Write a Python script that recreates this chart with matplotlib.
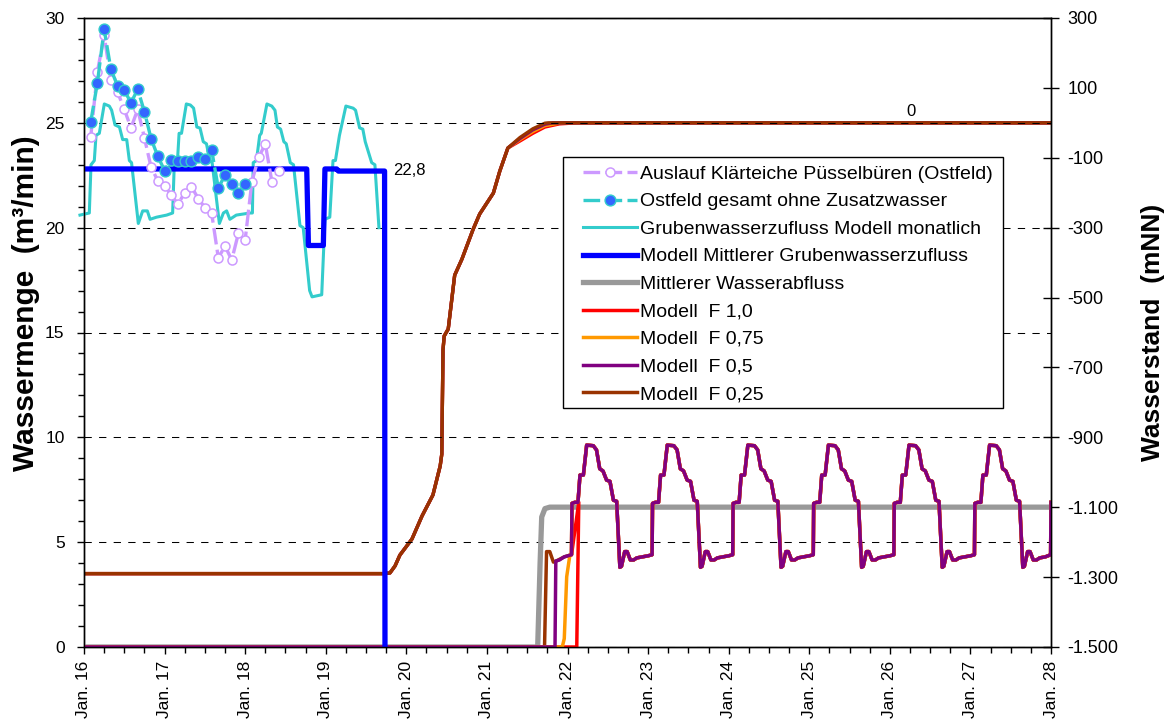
import matplotlib
matplotlib.use("Agg")
import matplotlib.pyplot as plt
from matplotlib.patches import Rectangle
from matplotlib.ticker import MultipleLocator, FixedLocator, FuncFormatter

plt.rcParams['font.family'] = ['Liberation Sans', 'DejaVu Sans']

# measured series, month index counted from Jan 2016 (1 = Feb 2016)
auslauf_m = list(range(1, 30))
auslauf_v = [24.33, 27.44, 29.17, 27.05, 26.47, 25.64, 24.76, 25.64, 24.28, 22.87,
             22.24, 21.99, 21.55, 21.12, 21.67, 21.96, 21.39, 20.96, 20.71, 18.56,
             19.12, 18.46, 19.74, 19.42, 22.20, 23.35, 23.99, 22.16, 22.71]

ostfeld_m = list(range(1, 25))
ostfeld_v = [25.03, 26.92, 29.46, 27.56, 26.76, 26.55, 25.96, 26.60, 25.53, 24.23,
             23.40, 22.72, 23.24, 23.16, 23.16, 23.20, 23.35, 23.29, 23.72, 21.88,
             22.52, 22.08, 21.67, 22.08]

# Grubenwasserzufluss Modell monatlich (decimal years)
gw_t = [2015.95, 2016.066, 2016.087, 2016.128, 2016.149, 2016.19, 2016.252, 2016.314,
        2016.343, 2016.385, 2016.44, 2016.48, 2016.53, 2016.563, 2016.59, 2016.674,
        2016.728, 2016.786, 2016.82, 2016.90, 2017.026, 2017.10,
        2017.12, 2017.16, 2017.18, 2017.21, 2017.27, 2017.32, 2017.36, 2017.40,
        2017.44, 2017.48, 2017.52, 2017.56, 2017.59, 2017.68, 2017.73, 2017.77,
        2017.81, 2017.89, 2018.06, 2018.09,
        2018.10, 2018.14, 2018.18, 2018.20, 2018.27, 2018.33, 2018.37, 2018.40,
        2018.44, 2018.48, 2018.51, 2018.56, 2018.60, 2018.68, 2018.72, 2018.80,
        2018.83, 2018.95, 2018.99, 2019.05,
        2019.09, 2019.12, 2019.17, 2019.25, 2019.34, 2019.37, 2019.42, 2019.46,
        2019.49, 2019.57, 2019.61, 2019.66]
gw_v = [20.6, 20.7, 23.0, 23.2, 24.4, 24.5, 25.9, 25.8,
        25.6, 24.9, 24.8, 24.2, 24.2, 23.2, 23.1, 20.2,
        20.8, 20.8, 20.4, 20.5, 20.6, 20.7,
        23.0, 23.2, 24.5, 24.5, 25.9, 25.85, 25.7, 24.8,
        24.75, 24.1, 24.0, 23.2, 23.1, 20.2, 20.7, 20.8,
        20.4, 20.6, 20.7, 20.7,
        23.1, 23.2, 24.4, 24.5, 25.9, 25.8, 25.6, 24.8,
        24.7, 24.1, 24.0, 23.1, 23.0, 20.1, 20.0, 17.0,
        16.7, 16.8, 20.4, 20.5,
        23.2, 23.2, 24.4, 25.8, 25.7, 25.6, 24.76, 24.7,
        24.1, 23.1, 23.0, 20.0]

# Modell Mittlerer Grubenwasserzufluss
mgw_t = [2016.0, 2018.764, 2018.785, 2018.97, 2018.99, 2019.136, 2019.157, 2019.73, 2019.735]
mgw_v = [22.8, 22.8, 19.15, 19.15, 22.8, 22.8, 22.7, 22.7, 0.0]

# Mittlerer Wasserabfluss
abfl_t = [2016.0, 2021.63, 2021.66, 2021.68, 2021.72, 2021.78, 2028.0]
abfl_v = [0.0, 0.0, 4.0, 6.2, 6.6, 6.67, 6.67]

# water level (mNN), common part for all models
lvl_t = [2016.0, 2019.735, 2019.797, 2019.86, 2019.92, 2020.07, 2020.195, 2020.33,
         2020.42, 2020.44, 2020.455, 2020.47, 2020.52, 2020.60, 2020.69, 2020.75,
         2020.83, 2020.91, 2021.08, 2021.16, 2021.26]
lvl_v = [-1290, -1290, -1288, -1268, -1237, -1191, -1125, -1065,
         -982, -948, -650, -610, -590, -436, -390, -353,
         -304, -261, -201, -138, -72]
# tail of the water level per model
lvl_tail_t = {'1,0': [2021.41, 2021.57, 2021.72, 2021.90, 2022.12, 2028.0],
              '0,75': [2021.41, 2021.57, 2021.72, 2021.90, 2021.98, 2028.0],
              '0,5': [2021.41, 2021.57, 2021.72, 2021.82, 2028.0],
              '0,25': [2021.41, 2021.57, 2021.72, 2021.76, 2028.0]}
lvl_tail_v = {'1,0': [-52, -30, -12, -3, 0, 0],
              '0,75': [-48, -25, -8, -1, 0, 0],
              '0,5': [-45, -20, -4, 0, 0],
              '0,25': [-42, -17, -1, 0, 0]}

# discharge, seasonal part shared by all models (from Feb 2022)
dis_t = [2022.05, 2022.055, 2022.09, 2022.13, 2022.155, 2022.197, 2022.238, 2022.32, 2022.36,
         2022.40, 2022.44, 2022.485, 2022.527, 2022.57, 2022.61, 2022.65, 2022.67, 2022.71,
         2022.74, 2022.78, 2022.82, 2022.86, 2022.93, 2023.0,
         2023.05, 2023.055, 2023.09, 2023.13, 2023.155, 2023.197, 2023.238, 2023.32, 2023.36,
         2023.40, 2023.44, 2023.485, 2023.527, 2023.57, 2023.61, 2023.65, 2023.67, 2023.71,
         2023.74, 2023.78, 2023.82, 2023.86, 2023.93, 2024.0,
         2024.05, 2024.055, 2024.09, 2024.13, 2024.155, 2024.197, 2024.238, 2024.32, 2024.36,
         2024.40, 2024.44, 2024.485, 2024.527, 2024.57, 2024.61, 2024.65, 2024.67, 2024.71,
         2024.74, 2024.78, 2024.82, 2024.86, 2024.93, 2025.0,
         2025.05, 2025.055, 2025.09, 2025.13, 2025.155, 2025.197, 2025.238, 2025.32, 2025.36,
         2025.40, 2025.44, 2025.485, 2025.527, 2025.57, 2025.61, 2025.65, 2025.67, 2025.71,
         2025.74, 2025.78, 2025.82, 2025.86, 2025.93, 2026.0,
         2026.05, 2026.055, 2026.09, 2026.13, 2026.155, 2026.197, 2026.238, 2026.32, 2026.36,
         2026.40, 2026.44, 2026.485, 2026.527, 2026.57, 2026.61, 2026.65, 2026.67, 2026.71,
         2026.74, 2026.78, 2026.82, 2026.86, 2026.93, 2027.0,
         2027.05, 2027.055, 2027.09, 2027.13, 2027.155, 2027.197, 2027.238, 2027.32, 2027.36,
         2027.40, 2027.44, 2027.485, 2027.527, 2027.57, 2027.61, 2027.65, 2027.67, 2027.71,
         2027.74, 2027.78, 2027.82, 2027.86, 2027.93, 2027.995, 2028.0]
dis_v = [4.4, 6.85, 6.9, 6.9, 8.2, 8.2, 9.63, 9.6, 9.4,
         8.5, 8.4, 7.96, 7.9, 7.0, 6.95, 3.8, 3.85, 4.55,
         4.55, 4.15, 4.15, 4.25, 4.3, 4.35,
         4.4, 6.85, 6.9, 6.9, 8.2, 8.2, 9.63, 9.6, 9.4,
         8.5, 8.4, 7.96, 7.9, 7.0, 6.95, 3.8, 3.85, 4.55,
         4.55, 4.15, 4.15, 4.25, 4.3, 4.35,
         4.4, 6.85, 6.9, 6.9, 8.2, 8.2, 9.63, 9.6, 9.4,
         8.5, 8.4, 7.96, 7.9, 7.0, 6.95, 3.8, 3.85, 4.55,
         4.55, 4.15, 4.15, 4.25, 4.3, 4.35,
         4.4, 6.85, 6.9, 6.9, 8.2, 8.2, 9.63, 9.6, 9.4,
         8.5, 8.4, 7.96, 7.9, 7.0, 6.95, 3.8, 3.85, 4.55,
         4.55, 4.15, 4.15, 4.25, 4.3, 4.35,
         4.4, 6.85, 6.9, 6.9, 8.2, 8.2, 9.63, 9.6, 9.4,
         8.5, 8.4, 7.96, 7.9, 7.0, 6.95, 3.8, 3.85, 4.55,
         4.55, 4.15, 4.15, 4.25, 4.3, 4.35,
         4.4, 6.85, 6.9, 6.9, 8.2, 8.2, 9.63, 9.6, 9.4,
         8.5, 8.4, 7.96, 7.9, 7.0, 6.95, 3.8, 3.85, 4.55,
         4.55, 4.15, 4.15, 4.25, 4.3, 4.4, 6.9]
# start of discharge per model (before the shared part)
dis_head_t = {'1,0': [2016.0, 2022.115, 2022.14],
              '0,75': [2016.0, 2021.935, 2021.96, 2021.99, 2022.03],
              '0,5': [2016.0, 2021.845, 2021.855, 2021.90, 2021.96, 2022.03],
              '0,25': [2016.0, 2021.715, 2021.74, 2021.78, 2021.825, 2021.86, 2021.96, 2022.03]}
dis_head_v = {'1,0': [0.0, 0.0, 6.9],
              '0,75': [0.0, 0.0, 0.4, 3.35, 4.4],
              '0,5': [0.0, 0.0, 4.1, 4.15, 4.3, 4.38],
              '0,25': [0.0, 0.0, 4.55, 4.55, 4.05, 4.1, 4.3, 4.38]}

model_keys = ['1,0', '0,75', '0,5', '0,25']
model_colors = {'1,0': '#FF0000', '0,75': '#FF9900', '0,5': '#800080', '0,25': '#993300'}

year_ticks = list(range(2016, 2029))
year_labels = ['Jan. %02d' % (y % 100) for y in year_ticks]


def month_to_year(months):
    return [2016 + m / 12.0 for m in months]


def de_thousands(v, pos):
    s = '{:,.0f}'.format(v).replace(',', '.')
    return s


fig = plt.figure(figsize=(11.71, 7.19), dpi=100)
ax = fig.add_axes([84 / 1171, 72 / 719, 967 / 1171, 629 / 719])
ax2 = ax.twinx()
ax.set_zorder(ax2.get_zorder() + 1)
ax.patch.set_visible(False)

ax.set_xlim(2016, 2028)
ax.set_ylim(0, 30)
ax2.set_ylim(-1500, 300)

ax.grid(axis='y', which='major', color='black', linestyle=(0, (7, 7)), linewidth=0.75)
ax.set_axisbelow(True)

# water level on right axis, brown on top
for k in model_keys:
    ax2.plot(lvl_t + lvl_tail_t[k], lvl_v + lvl_tail_v[k], color=model_colors[k], lw=2.4,
             solid_joinstyle='round')

# left axis series
h_gw, = ax.plot(gw_t, gw_v, color='#33CCCC', lw=2.2, clip_on=False,
                label='Grubenwasserzufluss Modell monatlich')
h_abfl, = ax.plot(abfl_t, abfl_v, color='#999999', lw=3.8, solid_joinstyle='round',
                  label='Mittlerer Wasserabfluss')
dis_handles = {}
for k in ['0,25', '1,0', '0,75', '0,5']:
    h, = ax.plot(dis_head_t[k] + dis_t, dis_head_v[k] + dis_v, color=model_colors[k], lw=2.5,
                 label='Modell  F ' + k)
    dis_handles[k] = h
h_mgw, = ax.plot(mgw_t, mgw_v, color='#0000FF', lw=3.8,
                 label='Modell Mittlerer Grubenwasserzufluss')
h_aus, = ax.plot(month_to_year(auslauf_m), auslauf_v, color='#CC99FF', lw=2.4,
                 linestyle=(0, (5, 1.6)), marker='o', ms=6.5, mfc='white', mec='#CC99FF',
                 mew=1.1, label='Auslauf Klärteiche Püsselbüren (Ostfeld)')
h_ost, = ax.plot(month_to_year(ostfeld_m), ostfeld_v, color='#33CCCC', lw=2.4,
                 linestyle=(0, (5, 1.6)), marker='o', ms=7.8, mfc='#3366FF', mec='#33CCCC',
                 mew=1.0, label='Ostfeld gesamt ohne Zusatzwasser')

ax.text(2019.83, 22.75, '22,8', fontsize=12, ha='left', va='center')
ax2.annotate('0', (2026.26, 0), xytext=(0, 3), textcoords='offset points',
             fontsize=12, ha='center', va='bottom')

# axes styling
ax.xaxis.set_major_locator(FixedLocator(year_ticks))
ax.xaxis.set_minor_locator(MultipleLocator(0.25))
ax.set_xticklabels(year_labels, rotation=90)
ax.yaxis.set_major_locator(MultipleLocator(5))
ax.yaxis.set_minor_locator(MultipleLocator(1))
ax.tick_params(axis='both', which='major', direction='out', length=5, width=1, labelsize=12.5)
ax.tick_params(axis='both', which='minor', direction='out', length=4, width=1)
ax.tick_params(axis='x', which='major', pad=5)
ax.tick_params(axis='y', which='major', pad=9)
ax2.yaxis.set_major_locator(FixedLocator(list(range(-1500, 301, 200))))
ax2.yaxis.set_major_formatter(FuncFormatter(de_thousands))
ax2.tick_params(axis='y', which='major', direction='inout', length=12, width=1, labelsize=13,
                pad=6)
for a in (ax, ax2):
    for sp in a.spines.values():
        sp.set_linewidth(1.0)

ax.set_ylabel('Wassermenge  (m³/min)', fontsize=21.5, fontweight='bold')
ax.yaxis.set_label_coords(-0.0455, 0.547)
ax2.set_ylabel('Wasserstand  (mNN)', fontsize=19, fontweight='bold', labelpad=16)

# legend box drawn separately so the inner padding can differ per side
ax.add_patch(Rectangle((0.4953, 0.380), 0.455, 0.399, transform=ax.transAxes,
                       facecolor='white', edgecolor='black', lw=1.0, zorder=4.9,
                       clip_on=False))
handles = [h_aus, h_ost, h_gw, h_mgw, h_abfl] + [dis_handles[k] for k in model_keys]
leg = ax.legend(handles=handles, loc='upper left', bbox_to_anchor=(0.516, 0.766),
                fontsize=14, frameon=False, handlelength=2.8, handletextpad=0.15,
                labelspacing=0.51, borderpad=0, borderaxespad=0, numpoints=1)
leg.set_zorder(5)

fig.savefig('out.png', dpi=100)
